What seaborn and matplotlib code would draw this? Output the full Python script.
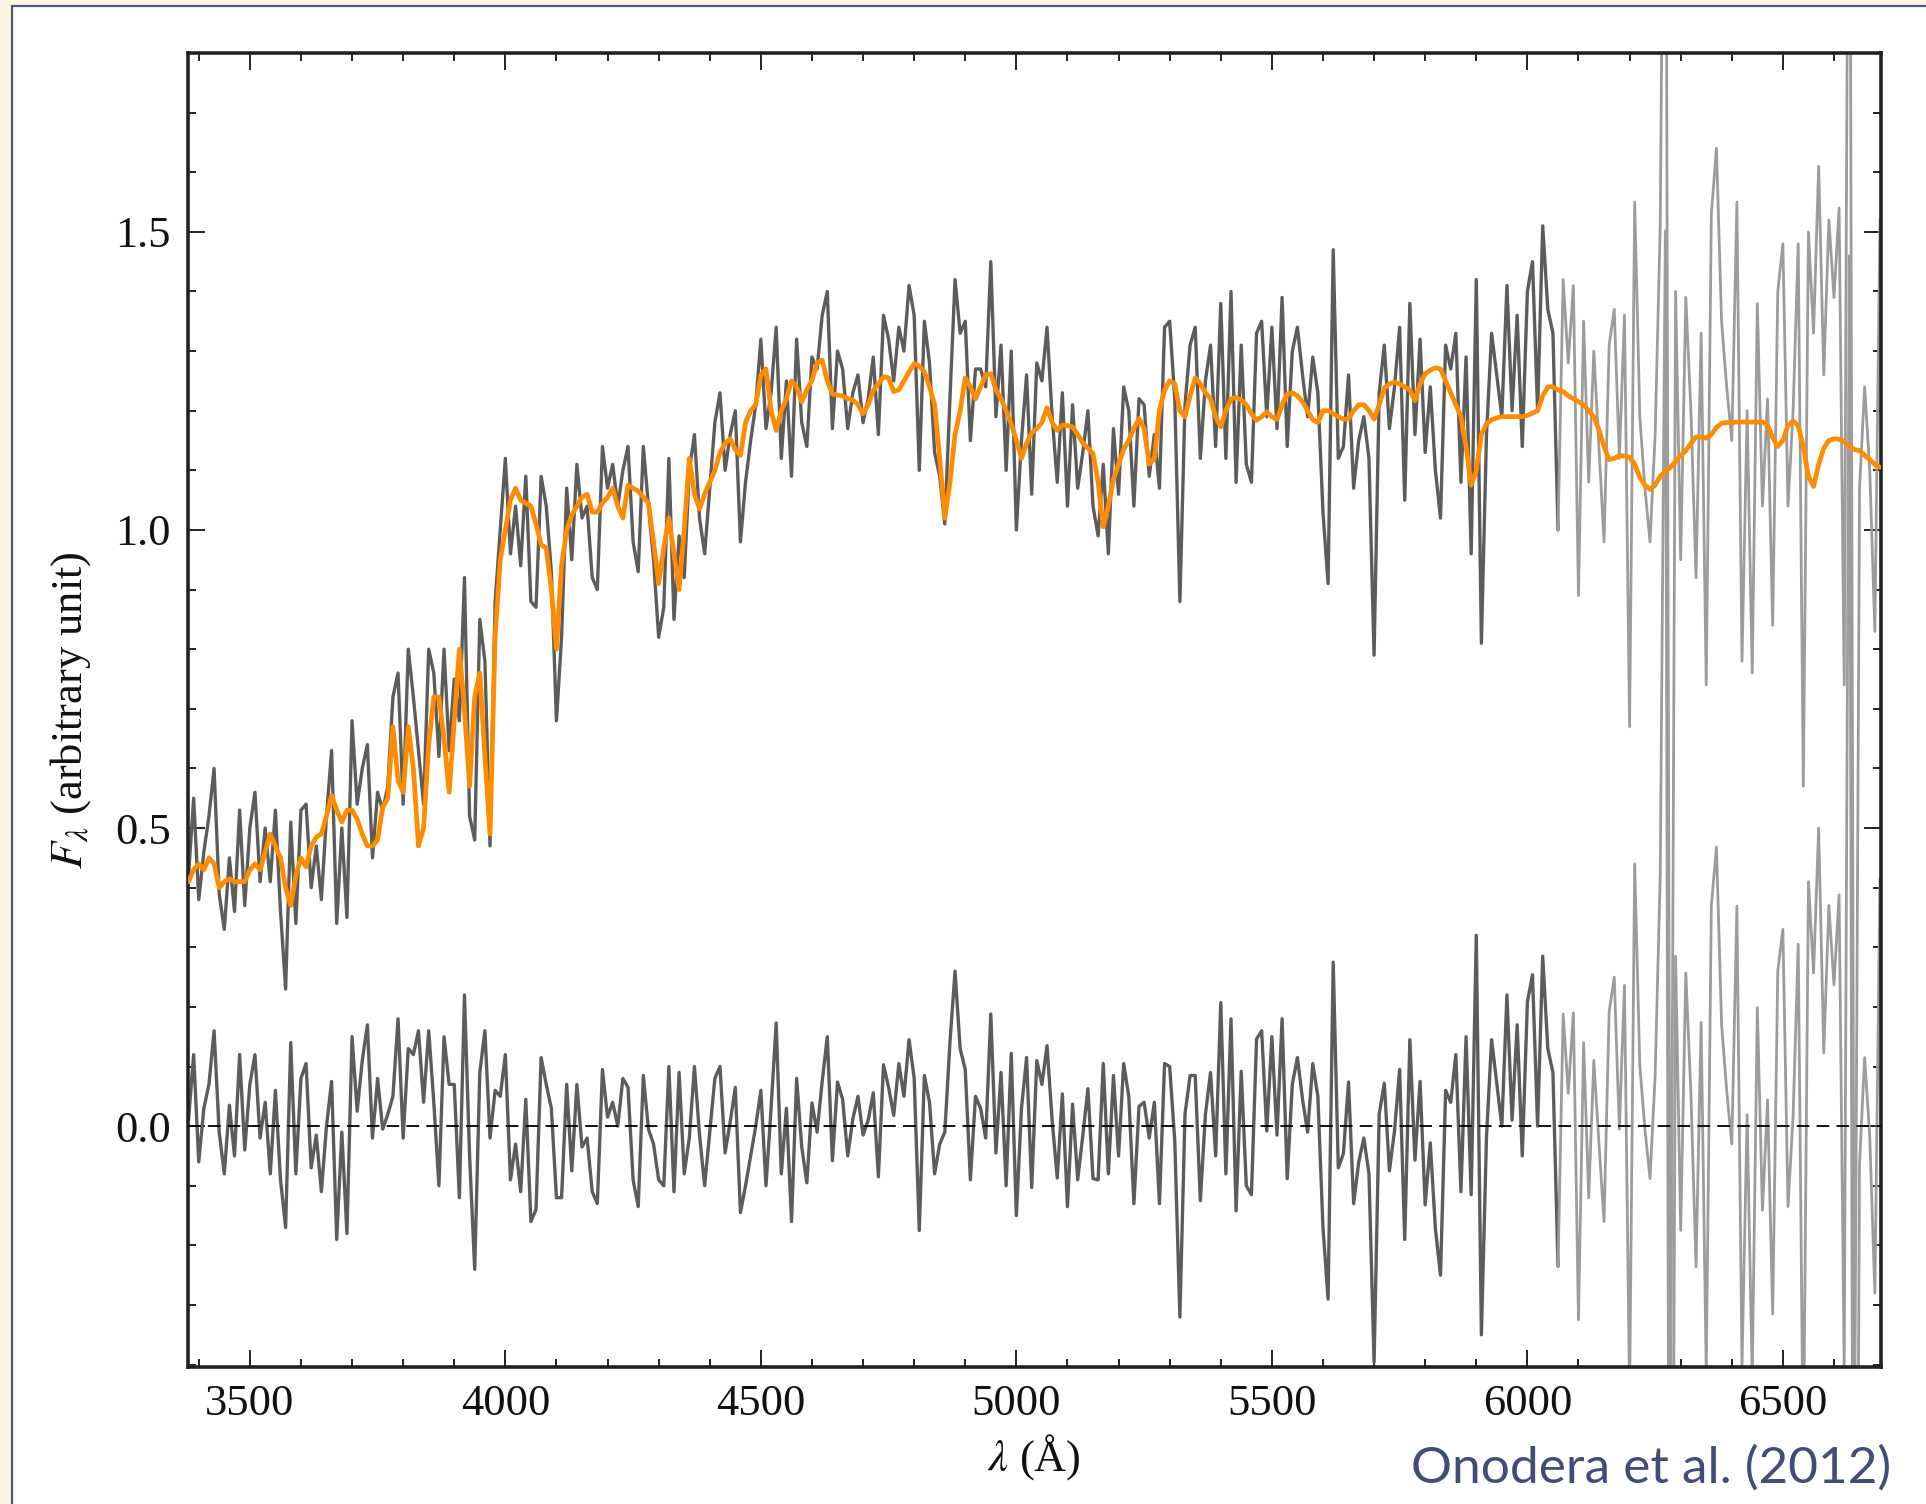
import numpy as np
import pandas as pd
import matplotlib
matplotlib.use("Agg")
import matplotlib.pyplot as plt
from matplotlib.patches import Rectangle
from matplotlib.ticker import MultipleLocator
import seaborn as sns

# wavelength grid (Angstrom), one sample every 10 A
wavelength = np.arange(3380, 6700, 10)

flux = [
    0.42, 0.55, 0.38, 0.46, 0.52, 0.60, 0.39, 0.33, 0.45, 0.36,   # 3380
    0.53, 0.37, 0.50, 0.56, 0.41, 0.50, 0.41, 0.53, 0.36, 0.23,   # 3480
    0.51, 0.34, 0.53, 0.54, 0.40, 0.47, 0.38, 0.52, 0.63, 0.34,   # 3580
    0.50, 0.35, 0.68, 0.54, 0.60, 0.64, 0.45, 0.56, 0.53, 0.57,   # 3680
    0.72, 0.76, 0.54, 0.80, 0.72, 0.63, 0.54, 0.80, 0.76, 0.62,   # 3780
    0.80, 0.63, 0.75, 0.68, 0.92, 0.52, 0.48, 0.85, 0.78, 0.47,   # 3880
    0.88, 1.00, 1.12, 0.96, 1.04, 0.94, 1.09, 0.88, 0.87, 1.09,   # 3980
    1.04, 0.93, 0.68, 0.82, 1.07, 0.95, 1.11, 1.02, 1.04, 0.92,   # 4080
    0.90, 1.14, 1.07, 1.11, 1.04, 1.10, 1.14, 0.98, 0.93, 1.14,   # 4180
    1.04, 0.95, 0.82, 0.87, 1.12, 0.85, 0.99, 0.92, 1.10, 1.16,   # 4280
    1.02, 0.96, 1.07, 1.18, 1.23, 1.10, 1.16, 1.20, 0.98, 1.08,   # 4380
    1.15, 1.21, 1.32, 1.17, 1.23, 1.34, 1.12, 1.25, 1.09, 1.32,   # 4480
    1.18, 1.14, 1.29, 1.27, 1.36, 1.40, 1.17, 1.30, 1.27, 1.17,   # 4580
    1.23, 1.26, 1.18, 1.22, 1.29, 1.16, 1.36, 1.32, 1.25, 1.34,   # 4680
    1.30, 1.41, 1.36, 1.10, 1.35, 1.28, 1.13, 1.09, 1.01, 1.22,   # 4780
    1.42, 1.33, 1.35, 1.15, 1.27, 1.27, 1.24, 1.45, 1.19, 1.31,   # 4880
    1.10, 1.30, 1.00, 1.15, 1.26, 1.06, 1.28, 1.25, 1.34, 1.19,   # 4980
    1.08, 1.23, 1.04, 1.21, 1.07, 1.13, 1.20, 1.04, 0.99, 1.11,   # 5080
    0.96, 1.17, 1.06, 1.24, 1.20, 1.04, 1.22, 1.21, 1.09, 1.16,   # 5180
    1.07, 1.34, 1.35, 1.22, 0.88, 1.21, 1.31, 1.34, 1.12, 1.25,   # 5280
    1.31, 1.14, 1.38, 1.12, 1.40, 1.08, 1.31, 1.11, 1.08, 1.33,   # 5380
    1.35, 1.19, 1.34, 1.17, 1.39, 1.14, 1.30, 1.34, 1.26, 1.19,   # 5480
    1.29, 1.23, 1.03, 0.91, 1.47, 1.12, 1.14, 1.26, 1.07, 1.15,   # 5580
    1.19, 1.12, 0.79, 1.23, 1.31, 1.17, 1.24, 1.34, 1.05, 1.38,   # 5680
    1.16, 1.32, 1.13, 1.24, 1.10, 1.02, 1.31, 1.27, 1.33, 1.08,   # 5780
    1.29, 0.96, 1.42, 0.81, 1.16, 1.33, 1.26, 1.19, 1.41, 1.20,   # 5880
    1.36, 1.14, 1.40, 1.45, 1.20, 1.51, 1.37, 1.33, 1.00, 1.42,   # 5980
    1.28, 1.41, 0.89, 1.35, 1.08, 1.30, 1.14, 0.98, 1.31, 1.37,   # 6080
    1.12, 1.36, 0.67, 1.55, 1.19, 1.07, 0.98, 1.16, 1.51, 2.60,   # 6180
    -0.60, 1.40, 0.95, 1.39, 1.20, 0.92, 1.33, 0.74, 1.53, 1.64,  # 6280
    1.35, 1.24, 1.15, 1.55, 0.78, 1.20, 0.76, 1.38, 1.04, 1.22,   # 6380
    0.84, 1.40, 1.48, 1.04, 1.20, 1.48, 0.57, 1.50, 1.33, 1.61,   # 6480
    1.26, 1.52, 1.39, 1.54, 0.74, 2.60, -0.60, 1.07, 1.24, 1.10,  # 6580
    0.83, 1.52,                                                   # 6680
]

# best-fit model spectrum (orange)
model = [
    0.41, 0.43, 0.44, 0.43, 0.45, 0.44, 0.40, 0.41, 0.415, 0.41,
    0.41, 0.41, 0.43, 0.44, 0.43, 0.46, 0.49, 0.47, 0.45, 0.40,
    0.37, 0.42, 0.45, 0.435, 0.47, 0.485, 0.49, 0.52, 0.555, 0.53,
    0.51, 0.53, 0.53, 0.515, 0.49, 0.47, 0.47, 0.48, 0.535, 0.55,
    0.67, 0.58, 0.56, 0.67, 0.60, 0.47, 0.50, 0.64, 0.72, 0.72,
    0.65, 0.56, 0.68, 0.80, 0.70, 0.57, 0.72, 0.76, 0.62, 0.49,
    0.82, 0.95, 1.00, 1.05, 1.07, 1.05, 1.045, 1.04, 1.01, 0.975,
    0.97, 0.90, 0.80, 0.94, 1.00, 1.025, 1.04, 1.055, 1.06, 1.03,
    1.03, 1.045, 1.055, 1.07, 1.04, 1.02, 1.075, 1.07, 1.065, 1.055,
    1.045, 0.98, 0.91, 0.97, 1.02, 0.96, 0.90, 1.00, 1.12, 1.06,
    1.035, 1.06, 1.08, 1.10, 1.13, 1.145, 1.153, 1.135, 1.125, 1.18,
    1.20, 1.21, 1.26, 1.27, 1.20, 1.167, 1.20, 1.22, 1.25, 1.24,
    1.215, 1.235, 1.251, 1.28, 1.285, 1.25, 1.228, 1.226, 1.225, 1.22,
    1.218, 1.21, 1.195, 1.21, 1.234, 1.245, 1.257, 1.255, 1.232, 1.235,
    1.25, 1.265, 1.279, 1.275, 1.265, 1.24, 1.21, 1.12, 1.02, 1.08,
    1.16, 1.20, 1.255, 1.24, 1.22, 1.24, 1.26, 1.262, 1.235, 1.22,
    1.20, 1.178, 1.15, 1.12, 1.145, 1.163, 1.17, 1.18, 1.205, 1.18,
    1.167, 1.176, 1.175, 1.173, 1.16, 1.146, 1.137, 1.128, 1.08, 1.005,
    1.04, 1.085, 1.11, 1.135, 1.15, 1.17, 1.187, 1.17, 1.11, 1.12,
    1.20, 1.235, 1.25, 1.245, 1.20, 1.19, 1.225, 1.255, 1.245, 1.23,
    1.22, 1.19, 1.173, 1.20, 1.22, 1.222, 1.218, 1.21, 1.195, 1.184,
    1.19, 1.198, 1.19, 1.185, 1.21, 1.228, 1.23, 1.225, 1.215, 1.20,
    1.185, 1.18, 1.20, 1.20, 1.195, 1.19, 1.186, 1.186, 1.20, 1.21,
    1.21, 1.20, 1.186, 1.21, 1.238, 1.245, 1.248, 1.245, 1.24, 1.235,
    1.217, 1.245, 1.262, 1.268, 1.272, 1.27, 1.25, 1.23, 1.21, 1.19,
    1.14, 1.075, 1.10, 1.16, 1.178, 1.185, 1.188, 1.19, 1.19, 1.19,
    1.19, 1.19, 1.192, 1.196, 1.20, 1.225, 1.24, 1.24, 1.235, 1.232,
    1.225, 1.22, 1.215, 1.21, 1.20, 1.19, 1.168, 1.14, 1.118, 1.12,
    1.125, 1.124, 1.122, 1.11, 1.088, 1.075, 1.068, 1.075, 1.09, 1.098,
    1.105, 1.115, 1.125, 1.133, 1.145, 1.156, 1.156, 1.154, 1.16, 1.172,
    1.179, 1.18, 1.18, 1.181, 1.181, 1.181, 1.181, 1.181, 1.181, 1.176,
    1.155, 1.14, 1.15, 1.175, 1.183, 1.175, 1.14, 1.09, 1.073, 1.11,
    1.137, 1.15, 1.153, 1.152, 1.148, 1.14, 1.135, 1.133, 1.125, 1.118,
    1.11, 1.105,
]

# beyond this wavelength the data are drawn in a lighter grey (low weight)
light_from = 6060

df = pd.DataFrame({'wavelength': wavelength, 'flux': flux, 'model': model})
df['residual'] = df['flux'] - df['model']
dark = df[df['wavelength'] <= light_from]
light = df[df['wavelength'] >= light_from]

sns.set_theme(style='ticks')
plt.rcParams['font.family'] = ['Liberation Serif', 'DejaVu Serif']
plt.rcParams['mathtext.fontset'] = 'stix'

W, H = 1926, 1504
fig = plt.figure(figsize=(W / 100, H / 100), dpi=100, facecolor='#fdf5e2')
fig.patches.append(Rectangle((12 / W, -0.01), 1.0, 1.01 - 6 / H, transform=fig.transFigure,
                             facecolor='white', edgecolor='#4f5a80', lw=1.6, zorder=-10))

ax = fig.add_axes([187.5 / W, 1 - 1367 / H, (1881 - 187.5) / W, (1367 - 53) / H])
ax.set_zorder(1)
ax.set_facecolor('white')

line_kw = dict(estimator=None, sort=False, ax=ax, legend=False)
for part, col, lw in [(dark, '#5c5c5c', 2.4), (light, '#9c9c9c', 2.0)]:
    sns.lineplot(data=part, x='wavelength', y='flux', color=col, lw=lw, **line_kw)
    sns.lineplot(data=part, x='wavelength', y='residual', color=col, lw=lw, **line_kw)

ax.axhline(0, color='black', lw=1.3, dashes=(7, 4), zorder=3)
sns.lineplot(data=df, x='wavelength', y='model', color='#ff8c00', lw=3.4, zorder=4, **line_kw)

ax.set_xlim(3378, 6692)
ax.set_ylim(-0.404, 1.80)
ax.xaxis.set_major_locator(MultipleLocator(500))
ax.xaxis.set_minor_locator(MultipleLocator(100))
ax.yaxis.set_major_locator(MultipleLocator(0.5))
ax.yaxis.set_minor_locator(MultipleLocator(0.1))
ax.tick_params(which='both', direction='in', top=True, right=True, width=1.4,
               labelsize=32, pad=12, color='#222222', labelcolor='#111111')
ax.tick_params(which='major', length=12)
ax.tick_params(which='minor', length=6)
for s in ax.spines.values():
    s.set_linewidth(2.6)
    s.set_color('#222222')

ax.set_xlabel(r'$\lambda$ (Å)', fontsize=32, labelpad=6, color='#111111')
ax.set_ylabel(r'$F_\lambda$ (arbitrary unit)', fontsize=32, labelpad=16, color='#111111')

fig.text(1891 / W, 1 - 1483 / H, 'Onodera et al. (2012)', ha='right', va='baseline',
         fontsize=37, color='#414c78', family=['Lato', 'DejaVu Sans'])

fig.savefig('out.png', dpi=100, facecolor=fig.get_facecolor())
